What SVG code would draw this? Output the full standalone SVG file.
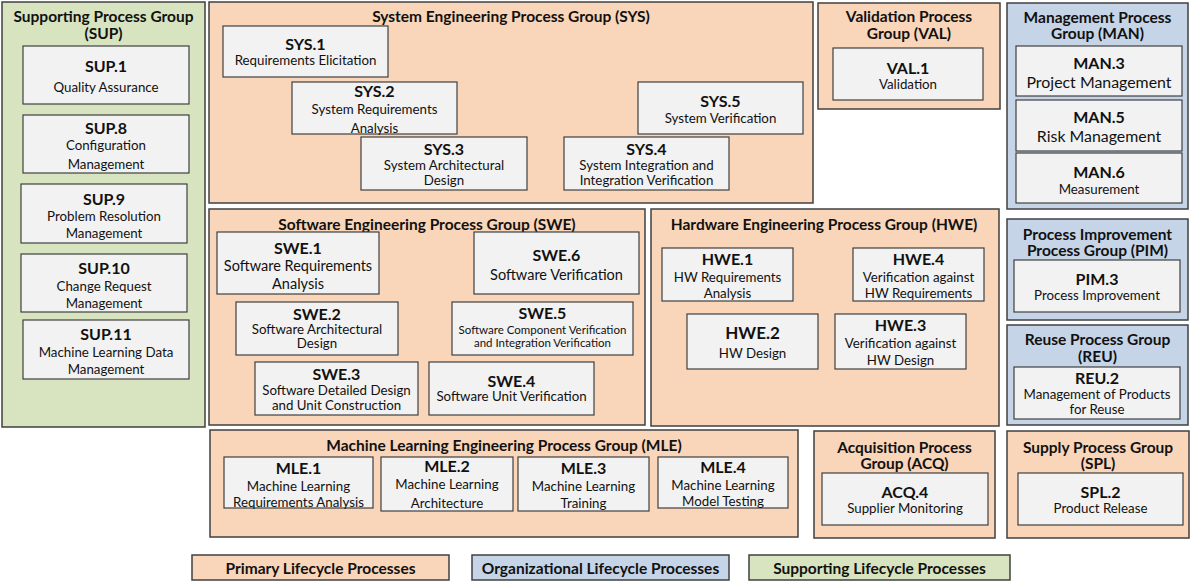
<svg xmlns="http://www.w3.org/2000/svg" width="1194" height="588" viewBox="0 0 1194 588">
<style>
text{font-family:Lato,"Liberation Sans",sans-serif;fill:#111;text-anchor:middle;dominant-baseline:central}
.pg{fill:#f9d5b9;stroke:#404040;stroke-width:1.5}
.og{fill:#c5d4e7;stroke:#404040;stroke-width:1.5}
.sg{fill:#d8e4c0;stroke:#404040;stroke-width:1.5}
.box{fill:#f2f2f2;stroke:#404040;stroke-width:1.2}
.gt{font-weight:700;font-size:15.5px}
.id{font-weight:700;font-size:16px}
.t{font-size:13.3px}
.tl{font-size:14.5px}
.tx{font-size:15.9px}
.ts{font-size:11.5px}
.lg{font-weight:700;font-size:15.5px}
</style>
<rect width="1194" height="588" fill="#ffffff"/>

<g id="grp-sup">
<rect class="sg" x="2" y="2" width="203" height="425"/>
<text class="gt" x="103.5" y="16">Supporting Process Group</text>
<text class="gt" x="103.5" y="33">(SUP)</text>
<g id="sup1"><rect class="box" x="23" y="46" width="166" height="58"/><text class="id" x="106" y="65">SUP.1</text><text class="t" x="106" y="87">Quality Assurance</text></g>
<g id="sup8"><rect class="box" x="23" y="115" width="166" height="58"/><text class="id" x="106" y="127">SUP.8</text><text class="t" x="106" y="145">Configuration</text><text class="t" x="106" y="164">Management</text></g>
<g id="sup9"><rect class="box" x="21" y="184" width="166" height="59"/><text class="id" x="104" y="198">SUP.9</text><text class="t" x="104" y="216">Problem Resolution</text><text class="t" x="104" y="233">Management</text></g>
<g id="sup10"><rect class="box" x="21" y="254" width="166" height="58"/><text class="id" x="104" y="267">SUP.10</text><text class="t" x="104" y="286">Change Request</text><text class="t" x="104" y="303">Management</text></g>
<g id="sup11"><rect class="box" x="23" y="320" width="166" height="59"/><text class="id" x="106" y="333">SUP.11</text><text class="t" x="106" y="352">Machine Learning Data</text><text class="t" x="106" y="369">Management</text></g>
</g>

<g id="grp-sys">
<rect class="pg" x="209" y="2" width="604" height="201"/>
<text class="gt" x="511" y="16">System Engineering Process Group (SYS)</text>
<g id="sys1"><rect class="box" x="223" y="26" width="165" height="51"/><text class="id" x="305.5" y="43">SYS.1</text><text class="t" x="305.5" y="60">Requirements Elicitation</text></g>
<g id="sys2"><rect class="box" x="292" y="82" width="165" height="52"/><text class="id" x="374.5" y="90">SYS.2</text><text class="t" x="374.5" y="109">System Requirements</text><text class="t" x="374.5" y="128">Analysis</text></g>
<g id="sys3"><rect class="box" x="361" y="137" width="166" height="53"/><text class="id" x="444" y="148">SYS.3</text><text class="t" x="444" y="164.5">System Architectural</text><text class="t" x="444" y="180">Design</text></g>
<g id="sys4"><rect class="box" x="564" y="137" width="165" height="53"/><text class="id" x="646.5" y="148">SYS.4</text><text class="t" x="646.5" y="164.5">System Integration and</text><text class="t" x="646.5" y="180">Integration Verification</text></g>
<g id="sys5"><rect class="box" x="638" y="82" width="165" height="52"/><text class="id" x="720.5" y="100">SYS.5</text><text class="t" x="720.5" y="118">System Verification</text></g>
</g>

<g id="grp-val">
<rect class="pg" x="818" y="3" width="182" height="106"/>
<text class="gt" x="909" y="16">Validation Process</text>
<text class="gt" x="909" y="33">Group (VAL)</text>
<g id="val1"><rect class="box" x="833" y="48" width="150" height="52"/><text class="id" x="908" y="67">VAL.1</text><text class="t" x="908" y="84">Validation</text></g>
</g>

<g id="grp-man">
<rect class="og" x="1007" y="3" width="181" height="206"/>
<text class="gt" x="1097.5" y="17">Management Process</text>
<text class="gt" x="1097.5" y="33">Group (MAN)</text>
<g id="man3"><rect class="box" x="1016" y="46" width="166" height="50"/><text class="id" x="1099" y="62">MAN.3</text><text class="tx" x="1099" y="81">Project Management</text></g>
<g id="man5"><rect class="box" x="1016" y="100" width="166" height="51"/><text class="id" x="1099" y="116">MAN.5</text><text class="tx" x="1099" y="135">Risk Management</text></g>
<g id="man6"><rect class="box" x="1016" y="153" width="166" height="50"/><text class="id" x="1099" y="171">MAN.6</text><text class="t" x="1099" y="189">Measurement</text></g>
</g>

<g id="grp-pim">
<rect class="og" x="1007" y="219" width="181" height="101"/>
<text class="gt" x="1097.5" y="234">Process Improvement</text>
<text class="gt" x="1097.5" y="250">Process Group (PIM)</text>
<g id="pim3"><rect class="box" x="1014" y="260" width="166" height="52"/><text class="id" x="1097" y="278">PIM.3</text><text class="t" x="1097" y="295">Process Improvement</text></g>
</g>

<g id="grp-reu">
<rect class="og" x="1007" y="325" width="181" height="100"/>
<text class="gt" x="1097.5" y="339">Reuse Process Group</text>
<text class="gt" x="1097.5" y="356">(REU)</text>
<g id="reu2"><rect class="box" x="1014" y="367" width="166" height="52"/><text class="id" x="1097" y="377.5">REU.2</text><text class="t" x="1097" y="393.5">Management of Products</text><text class="t" x="1097" y="408.5">for Reuse</text></g>
</g>

<g id="grp-swe">
<rect class="pg" x="209" y="209" width="436" height="216"/>
<text class="gt" x="427" y="224">Software Engineering Process Group (SWE)</text>
<g id="swe1"><rect class="box" x="217" y="232" width="162" height="62"/><text class="id" x="298" y="247">SWE.1</text><text class="tl" x="298" y="265">Software Requirements</text><text class="tl" x="298" y="283">Analysis</text></g>
<g id="swe6"><rect class="box" x="474" y="232" width="165" height="62"/><text class="id" x="556.5" y="254">SWE.6</text><text class="tl" x="556.5" y="274">Software Verification</text></g>
<g id="swe2"><rect class="box" x="236" y="302" width="162" height="53"/><text class="id" x="317" y="313">SWE.2</text><text class="t" x="317" y="329">Software Architectural</text><text class="t" x="317" y="343">Design</text></g>
<g id="swe5"><rect class="box" x="452" y="302" width="181" height="53"/><text class="id" x="542.5" y="312">SWE.5</text><text class="ts" x="542.5" y="329">Software Component Verification</text><text class="ts" x="542.5" y="342.5">and Integration Verification</text></g>
<g id="swe3"><rect class="box" x="255" y="362" width="163" height="53"/><text class="id" x="336.5" y="373">SWE.3</text><text class="t" x="336.5" y="390">Software Detailed Design</text><text class="t" x="336.5" y="404.5">and Unit Construction</text></g>
<g id="swe4"><rect class="box" x="429" y="362" width="165" height="53"/><text class="id" x="511.5" y="380">SWE.4</text><text class="t" x="511.5" y="396">Software Unit Verification</text></g>
</g>

<g id="grp-hwe">
<rect class="pg" x="651" y="209" width="348" height="217"/>
<text class="gt" x="824" y="224">Hardware Engineering Process Group (HWE)</text>
<g id="hwe1"><rect class="box" x="662" y="248" width="131" height="53"/><text class="id" x="727.5" y="258">HWE.1</text><text class="t" x="727.5" y="277">HW Requirements</text><text class="t" x="727.5" y="293">Analysis</text></g>
<g id="hwe4"><rect class="box" x="853" y="248" width="131" height="53"/><text class="id" x="918.5" y="258">HWE.4</text><text class="t" x="918.5" y="277">Verification against</text><text class="t" x="918.5" y="293">HW Requirements</text></g>
<g id="hwe2"><rect class="box" x="687" y="314" width="131" height="55"/><text class="id" x="752.5" y="332" style="font-size:17px">HWE.2</text><text class="t" x="752.5" y="353">HW Design</text></g>
<g id="hwe3"><rect class="box" x="835" y="314" width="131" height="55"/><text class="id" x="900.5" y="324">HWE.3</text><text class="t" x="900.5" y="343">Verification against</text><text class="t" x="900.5" y="360">HW Design</text></g>
</g>

<g id="grp-mle">
<rect class="pg" x="210" y="430" width="588" height="107"/>
<text class="gt" x="504" y="445">Machine Learning Engineering Process Group (MLE)</text>
<g id="mle1"><rect class="box" x="224" y="457" width="149" height="51"/><text class="id" x="298.5" y="467">MLE.1</text><text class="t" x="298.5" y="486">Machine Learning</text><text class="t" x="298.5" y="502">Requirements Analysis</text></g>
<g id="mle2"><rect class="box" x="381" y="457" width="132" height="54"/><text class="id" x="447" y="465">MLE.2</text><text class="t" x="447" y="484">Machine Learning</text><text class="t" x="447" y="503">Architecture</text></g>
<g id="mle3"><rect class="box" x="518" y="457" width="131" height="54"/><text class="id" x="583.5" y="467">MLE.3</text><text class="t" x="583.5" y="486">Machine Learning</text><text class="t" x="583.5" y="503">Training</text></g>
<g id="mle4"><rect class="box" x="658" y="457" width="130" height="51"/><text class="id" x="723" y="466">MLE.4</text><text class="t" x="723" y="485">Machine Learning</text><text class="t" x="723" y="501">Model Testing</text></g>
</g>

<g id="grp-acq">
<rect class="pg" x="814" y="431" width="181" height="107"/>
<text class="gt" x="904.5" y="447">Acquisition Process</text>
<text class="gt" x="904.5" y="463">Group (ACQ)</text>
<g id="acq4"><rect class="box" x="822" y="473" width="166" height="52"/><text class="id" x="905" y="491">ACQ.4</text><text class="t" x="905" y="508">Supplier Monitoring</text></g>
</g>

<g id="grp-spl">
<rect class="pg" x="1007" y="431" width="182" height="107"/>
<text class="gt" x="1098" y="447">Supply Process Group</text>
<text class="gt" x="1098" y="463">(SPL)</text>
<g id="spl2"><rect class="box" x="1018" y="473" width="165" height="52"/><text class="id" x="1100.5" y="491">SPL.2</text><text class="t" x="1100.5" y="508">Product Release</text></g>
</g>

<g id="connectors"></g>

<g id="legend">
<g id="leg-primary"><rect class="pg" x="192" y="555" width="257" height="25"/><text class="lg" x="320.5" y="568">Primary Lifecycle Processes</text></g>
<g id="leg-org"><rect class="og" x="472" y="555" width="257" height="25"/><text class="lg" x="600.5" y="568">Organizational Lifecycle Processes</text></g>
<g id="leg-sup"><rect class="sg" x="749" y="555" width="261" height="25"/><text class="lg" x="879.5" y="568">Supporting Lifecycle Processes</text></g>
</g>
</svg>
